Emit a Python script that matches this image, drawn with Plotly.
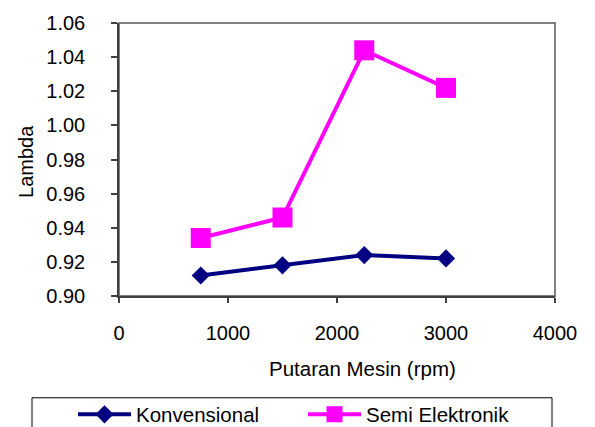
import plotly.graph_objects as go

rpm = [750, 1500, 2250, 3000]
konvensional = [0.912, 0.918, 0.924, 0.922]
semi_elektronik = [0.934, 0.946, 1.044, 1.022]
y_ticks = [0.90, 0.92, 0.94, 0.96, 0.98, 1.00, 1.02, 1.04, 1.06]
x_ticks = [0, 1000, 2000, 3000, 4000]

FONT = "Liberation Sans, Arial, sans-serif"
W, H = 595, 427

fig = go.Figure()
fig.add_trace(go.Scatter(
    x=rpm, y=konvensional, name="Konvensional", mode="lines+markers",
    line=dict(color="#000080", width=4),
    marker=dict(symbol="diamond", size=14, color="#000080"),
    legend="legend",
))
fig.add_trace(go.Scatter(
    x=rpm, y=semi_elektronik, name="Semi Elektronik", mode="lines+markers",
    line=dict(color="#FF00FF", width=4),
    marker=dict(symbol="square", size=20, color="#FF00FF"),
    legend="legend2",
))

# plot area frame (gray top/right)
fig.add_shape(type="rect", xref="x domain", yref="y domain", x0=0, x1=1, y0=0, y1=1,
              line=dict(color="#808080", width=2), layer="below")
# legend box
fig.add_shape(type="rect", xref="paper", yref="paper",
              x0=(32 - 119) / 436, x1=(552 - 119) / 436,
              y0=(296 - 440) / 275, y1=(296 - 398.5) / 275,
              line=dict(color="#000000", width=1))

leg_common = dict(
    orientation="h", xref="container", yref="container",
    xanchor="left", yanchor="top", itemwidth=53,
    bgcolor="rgba(0,0,0,0)", borderwidth=0,
    font=dict(family=FONT, size=20.5),
)

fig.update_layout(
    width=W, height=H,
    margin=dict(l=119, r=40, t=21, b=131),
    paper_bgcolor="white", plot_bgcolor="white",
    font=dict(family=FONT, size=20, color="#000000"),
    showlegend=True,
    legend=dict(x=73 / W, y=1 - 394.5 / H, **leg_common),
    legend2=dict(x=303 / W, y=1 - 394.5 / H, **leg_common),
    xaxis=dict(
        range=[0, 4000], tickvals=x_ticks, ticktext=[str(v) for v in x_ticks],
        showgrid=False, zeroline=False, showline=True, linecolor="#404040", linewidth=1.5,
        ticks="outside", ticklen=5, tickcolor="#404040", tickwidth=1.5,
        ticklabelstandoff=13,
        tickfont=dict(family=FONT, size=20),
    ),
    yaxis=dict(
        range=[0.90, 1.06], tickvals=y_ticks, ticktext=[f"{v:.2f}" for v in y_ticks],
        showgrid=False, zeroline=False, showline=True, linecolor="#404040", linewidth=1.5,
        ticks="outside", ticklen=6, tickcolor="#404040", tickwidth=1.5,
        ticklabelstandoff=22,
        tickfont=dict(family=FONT, size=20),
    ),
    annotations=[
        dict(text="Putaran Mesin (rpm)", xref="paper", yref="paper",
             x=(362 - 119) / 436, y=(296 - 369) / 275, xanchor="center", yanchor="middle",
             showarrow=False, font=dict(family=FONT, size=20.5)),
        dict(text="Lambda", xref="paper", yref="paper",
             x=(26 - 119) / 436, y=(296 - 161) / 275, xanchor="center", yanchor="middle",
             textangle=-90, showarrow=False, font=dict(family=FONT, size=20)),
    ],
)

fig.write_html("out.html")
